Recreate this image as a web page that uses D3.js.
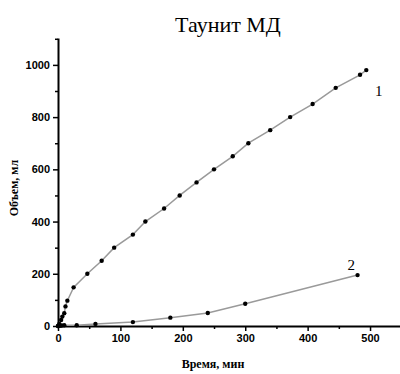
<!DOCTYPE html>
<html>
<head>
<meta charset="utf-8">
<script src="https://cdn.jsdelivr.net/npm/d3@7"></script>
<style>
  body { margin: 0; background: #fff; }
  svg { display: block; }
</style>
</head>
<body>
<svg id="chart" width="400" height="374"></svg>
<script>
// series 1 (Таунит МД, curve 1)
const time1 = [0, 2, 5, 7, 10, 12, 15, 25, 47, 70, 90, 120, 140, 170, 195, 222, 250, 280, 305, 340, 372, 408, 445, 484, 494];
const vol1  = [0, 8, 23, 36, 49, 75, 97, 148, 200, 250, 300, 350, 400, 450, 500, 550, 600, 650, 700, 750, 800, 850, 912, 962, 980];
// series 2 (curve 2)
const time2 = [0, 3, 6, 10, 30, 60, 120, 180, 240, 300, 480];
const vol2  = [0, 1, 2, 3, 3, 8, 15, 32, 50, 85, 195];

const xMajor = [0, 100, 200, 300, 400, 500];
const xMinor = [50, 150, 250, 350, 450, 550];
const yMajor = [0, 200, 400, 600, 800, 1000];
const yMinor = [100, 300, 500, 700, 900, 1100];

const serif = '"Liberation Serif", "Times New Roman", serif';
const margin = { top: 38, right: 0, bottom: 48, left: 58 };
const width = 400 - margin.left - margin.right;
const height = 374 - margin.top - margin.bottom;

const svg = d3.select('#chart');
const g = svg.append('g').attr('transform', `translate(${margin.left}, ${margin.top})`);

const x = d3.scaleLinear().domain([0, 548]).range([0, width]);
const y = d3.scaleLinear().domain([0, 1103]).range([height, 0]);

// minor ticks
g.append('g')
  .attr('transform', `translate(0, ${height})`)
  .call(d3.axisBottom(x).tickValues(xMinor).tickSize(3).tickFormat(''))
  .call(s => s.select('.domain').remove());
g.append('g')
  .call(d3.axisLeft(y).tickValues(yMinor).tickSize(3).tickFormat(''))
  .call(s => s.select('.domain').remove());

// major axes
g.append('g')
  .attr('transform', `translate(0, ${height})`)
  .call(d3.axisBottom(x).tickValues(xMajor).tickSize(5).tickSizeOuter(0).tickPadding(3).tickFormat(d3.format('d')));
g.append('g')
  .call(d3.axisLeft(y).tickValues(yMajor).tickSize(5).tickSizeOuter(0).tickPadding(3).tickFormat(d3.format('d')));

g.selectAll('.domain').attr('stroke-width', 2);
g.selectAll('.tick line').attr('stroke-width', 1.5);
g.selectAll('.tick text')
  .attr('font-family', '"Liberation Sans Narrow", "Liberation Sans", Arial, sans-serif')
  .attr('font-weight', 'bold')
  .attr('font-size', 11)
  .attr('fill', '#000');

const line = d3.line().x(d => x(d[0])).y(d => y(d[1]));

const s1 = d3.zip(time1, vol1);
const s2 = d3.zip(time2, vol2);

[s1, s2].forEach(s => {
  g.append('path')
    .datum(s)
    .attr('fill', 'none')
    .attr('stroke', '#9a9a9a')
    .attr('stroke-width', 1.5)
    .attr('d', line);
  g.append('g').selectAll('circle')
    .data(s)
    .enter().append('circle')
    .attr('cx', d => x(d[0]))
    .attr('cy', d => y(d[1]))
    .attr('r', 2.2)
    .attr('fill', '#000');
});

// curve labels
g.append('text').text('1')
  .attr('x', x(514)).attr('y', y(880))
  .attr('font-family', serif).attr('fill', '#000')
  .attr('font-size', 15).attr('text-anchor', 'middle');
g.append('text').text('2')
  .attr('x', x(470)).attr('y', y(215))
  .attr('font-family', serif).attr('fill', '#000')
  .attr('font-size', 15).attr('text-anchor', 'middle');

// title
svg.append('text').text('Таунит МД')
  .attr('x', 228).attr('y', 32)
  .attr('text-anchor', 'middle')
  .style('font-family', "'Liberation Serif', serif")
  .attr('font-size', 22);

// axis titles
svg.append('text').text('Время, мин')
  .attr('x', 213).attr('y', 368)
  .attr('text-anchor', 'middle')
  .attr('font-family', serif)
  .attr('font-weight', 'bold')
  .attr('font-size', 12);
svg.append('text').text('Объем, мл')
  .attr('transform', 'translate(18, 188) rotate(-90)')
  .attr('text-anchor', 'middle')
  .attr('font-family', serif)
  .attr('font-weight', 'bold')
  .attr('font-size', 12);
</script>
</body>
</html>
